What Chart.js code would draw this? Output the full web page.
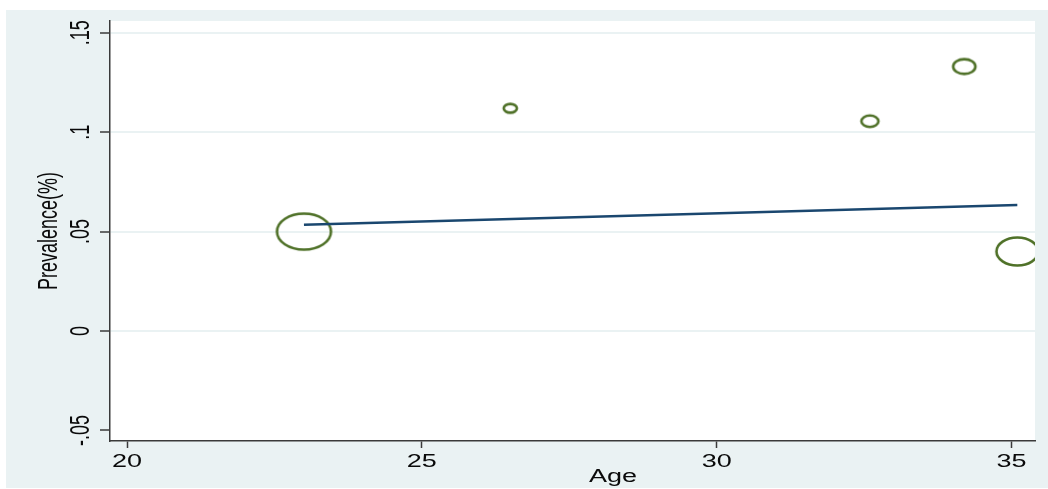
<!DOCTYPE html>
<html>
<head>
<meta charset="utf-8">
<script src="https://cdn.jsdelivr.net/npm/chart.js@4.4.1/dist/chart.umd.min.js"></script>
<style>
  html, body { margin: 0; padding: 0; background: #fff; }
  #wrap { width: 1048px; height: 489px; }
</style>
</head>
<body>
<div id="wrap"><canvas id="metaChart" width="1048" height="489"></canvas></div>
<script>
// one bubble per study
var ages = [23.0, 26.5, 32.6, 34.2, 35.1];
var prevalence = [0.050, 0.112, 0.1055, 0.133, 0.040];
var weights = [100, 6, 10, 17, 60];

// fitted meta-regression line
var fitAges = [23.0, 35.1];
var fitValues = [0.0534, 0.0634];

var xTicks = [20, 25, 30, 35];
var xTickLabels = ['20', '25', '30', '35'];
var yTicks = [-0.05, 0, 0.05, 0.1, 0.15];
var yTickLabels = ['-.05', '0', '.05', '.1', '.15'];

var STRETCH = 1.5; // the source picture is stretched sideways
var FONT = '18px "Liberation Sans", Arial, sans-serif';
var INK = '#0a0a0a';
var AXIS = '#3a3a3a';

function bubbleImage(w) {
    var rx = 2.7 * Math.sqrt(w);
    var ry = rx / STRETCH;
    var c = document.createElement('canvas');
    c.width = Math.ceil(rx * 2 + 5);
    c.height = Math.ceil(ry * 2 + 5);
    var g = c.getContext('2d');
    g.strokeStyle = '#4f7128';
    g.lineWidth = 2.6;
    g.beginPath();
    g.ellipse(c.width / 2, c.height / 2, rx, ry, 0, 0, Math.PI * 2);
    g.stroke();
    return c;
}

function stretchedText(ctx, text, x, y, rotate) {
    ctx.save();
    ctx.translate(x, y);
    ctx.scale(STRETCH, 1);
    if (rotate) ctx.rotate(-Math.PI / 2);
    ctx.textAlign = 'center';
    ctx.textBaseline = 'alphabetic';
    ctx.fillText(text, 0, 0);
    ctx.restore();
}

var backdrop = {
    id: 'backdrop',
    beforeDraw: function(chart) {
        var ctx = chart.ctx, a = chart.chartArea;
        ctx.save();
        ctx.fillStyle = '#ffffff';
        ctx.fillRect(0, 0, chart.width, chart.height);
        ctx.fillStyle = '#eaf2f3';
        ctx.fillRect(6, 10, chart.width - 6, chart.height - 11);
        ctx.fillStyle = '#ffffff';
        ctx.fillRect(a.left, a.top, a.right - a.left, a.bottom - a.top);
        ctx.restore();
    }
};

var axisText = {
    id: 'axisText',
    afterDraw: function(chart) {
        var ctx = chart.ctx, a = chart.chartArea;
        var xs = chart.scales.x, ys = chart.scales.y;
        ctx.save();
        ctx.font = FONT;
        ctx.fillStyle = INK;
        xTicks.forEach(function(v, i) {
            stretchedText(ctx, xTickLabels[i], xs.getPixelForValue(v), a.bottom + 26, false);
        });
        yTicks.forEach(function(v, i) {
            stretchedText(ctx, yTickLabels[i], a.left - 21, ys.getPixelForValue(v), true);
        });
        stretchedText(ctx, 'Age', 613, a.bottom + 41, false);
        stretchedText(ctx, 'Prevalence(%)', 57, (a.top + a.bottom) / 2, true);
        ctx.restore();
    }
};

var bubbleData = ages.map(function(a, i) { return { x: a, y: prevalence[i] }; });
var fitData = fitAges.map(function(a, i) { return { x: a, y: fitValues[i] }; });

new Chart(document.getElementById('metaChart').getContext('2d'), {
    type: 'scatter',
    data: {
        datasets: [{
            type: 'line',
            label: 'Fitted',
            data: fitData,
            borderColor: '#1a476f',
            borderWidth: 2.5,
            pointRadius: 0,
            fill: false
        }, {
            label: 'Studies',
            data: bubbleData,
            pointStyle: weights.map(bubbleImage),
            pointRadius: 10
        }]
    },
    options: {
        responsive: false,
        animation: false,
        layout: { padding: { left: 6, top: 21, right: 13, bottom: 0 } },
        plugins: {
            legend: { display: false },
            tooltip: { enabled: false }
        },
        scales: {
            x: {
                type: 'linear',
                min: 19.71,
                max: 35.40,
                afterBuildTicks: function(scale) {
                    scale.ticks = xTicks.map(function(v) { return { value: v }; });
                },
                afterFit: function(scale) { scale.height = 48; },
                ticks: { display: false },
                grid: { drawOnChartArea: false, drawTicks: true, tickLength: 7, tickColor: AXIS, tickWidth: 1.5 },
                border: { display: true, color: AXIS, width: 1.5 }
            },
            y: {
                type: 'linear',
                min: -0.0553,
                max: 0.1559,
                afterBuildTicks: function(scale) {
                    scale.ticks = yTicks.map(function(v) { return { value: v }; });
                },
                afterFit: function(scale) { scale.width = 104; },
                ticks: { display: false },
                grid: {
                    color: function(c) { return c.tick && c.tick.value < 0 ? 'rgba(0,0,0,0)' : '#eaf2f3'; },
                    lineWidth: 2,
                    drawTicks: true,
                    tickLength: 10,
                    tickColor: AXIS,
                    tickWidth: 1.5
                },
                border: { display: true, color: AXIS, width: 1.5 }
            }
        }
    },
    plugins: [backdrop, axisText]
});
</script>
</body>
</html>
